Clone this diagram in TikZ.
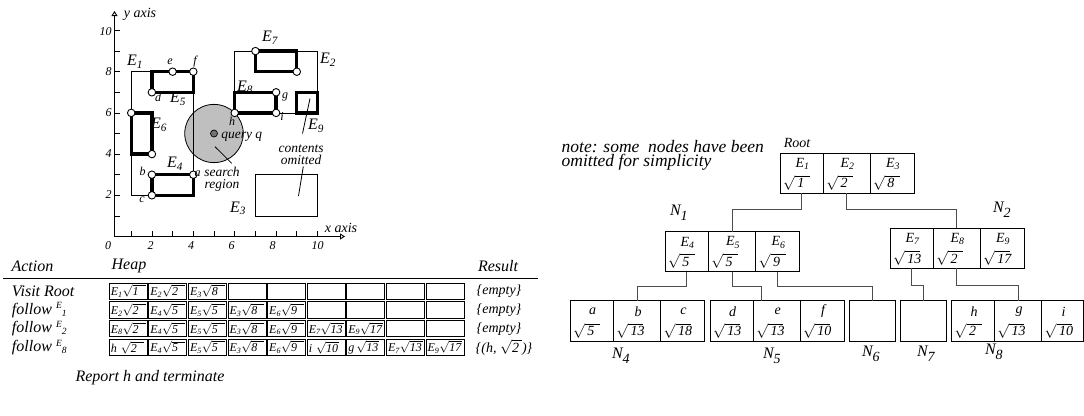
\documentclass[tikz,border=0pt]{standalone}
\usepackage{fontspec}
\setmainfont{Liberation Serif}
\usetikzlibrary{arrows.meta}
\newcommand\fs[1]{\fontsize{#1}{#1}\selectfont}
\newcommand\Es[1]{E\textsubscript{#1}}
\newcommand\tsq[1]{$\sqrt{\hbox to 15pt{\itshape\,#1\hfil}}$}
\newcommand\hsq[2][1pt]{$\sqrt{\hbox{\itshape #2\hspace{#1}}}$}
\newcommand\Nlab[1]{N\raisebox{-5pt}{\fs{14}\itshape #1}}
\newcommand\fE[1]{{\fs{9.5}\raisebox{5.5pt}{E}\raisebox{-2pt}{#1}}}
\newcommand\tcel[7]{%
  \node[tcell, minimum width=#4pt, minimum height=#5pt] (#1) at (#2,#3) {};
  \node (#1l) at ([xshift=1pt,yshift=-11pt]#1.north) {#6};
  \node[anchor=west] (#1s) at ([xshift=3pt,yshift=10.5pt]#1.south west) {\tsq{#7}};}
\begin{document}
\begin{tikzpicture}[x=1pt,y=-1pt,
  every node/.style={inner sep=0pt,outer sep=0pt,font=\fs{14}\itshape},
  thinln/.style={line width=0.8pt},
  thickrect/.style={line width=3.3pt},
  vtx/.style={circle,draw,fill=white,line width=0.9pt,minimum size=7.5pt,inner sep=0pt},
  heapcell/.style={draw,anchor=north west,minimum width=38pt,minimum height=16.5pt,line width=0.9pt},
  tcell/.style={draw,anchor=north west,line width=0.9pt,font=\fs{16}\itshape},
  conn/.style={draw=black!70,line width=0.9pt},
  axisarrow/.style={line width=0.9pt,-{Triangle[open,length=5pt,width=6pt]}},
  lab/.style={font=\fs{16}\itshape},
  plab/.style={font=\fs{12}\itshape},
  tlab/.style={font=\fs{13.5}\itshape},
  hc/.style={anchor=west,font=\fs{12}\itshape},
  rowlab/.style={font=\fs{16}\itshape,anchor=west},
  reslab/.style={font=\fs{14}\itshape}
]
\useasboundingbox (0,0) rectangle (1084,415);

% ---------------- spatial plot ----------------
\begin{scope}[shift={(110.5,236.5)}, x=20.7pt, y=20.6pt]
  \draw[thinln, fill=black!25] (5,5) circle[radius=1.414];
  \draw[thinln] (1,2) rectangle (4,8);
  \draw[thinln] (6,6) rectangle (10,9);
  \draw[thinln] (7,1) rectangle (10,3);
  \draw[thickrect] (2,7) rectangle (4,8);
  \draw[thickrect] (1,4) rectangle (2,6);
  \draw[thickrect] (2,2) rectangle (4,3);
  \draw[thickrect] (7,8) rectangle (9,9);
  \draw[thickrect] (6,6) rectangle (8,7);
  \draw[thickrect] (9,6) rectangle (10,7);
  \node[vtx] (pd) at (2,7) {};
  \node[vtx] (pe) at (3,8) {};
  \node[vtx] (pf) at (4,8) {};
  \node[vtx] (p6a) at (1,6) {};
  \node[vtx] (p6b) at (2,4) {};
  \node[vtx] (pa) at (4,3) {};
  \node[vtx] (pb) at (2,3) {};
  \node[vtx] (pc) at (2,2) {};
  \node[vtx] (p7a) at (7,9) {};
  \node[vtx] (p7b) at (9,8) {};
  \node[vtx] (ph) at (6,6) {};
  \node[vtx] (pg) at (8,7) {};
  \node[vtx] (pi) at (8,6) {};
  \node[circle,draw,fill=black!55,line width=0.7pt,minimum size=7pt] (q) at (5,5) {};
  \foreach \k in {1,...,10} {
    \draw[thinln] (\k,0) -- ++(0,0.25);
    \draw[thinln] (0.19,\k) -- ++(0.27,0);
  }
\end{scope}
\draw[axisarrow] (114.5,236.5) -- (114.5,11);
\draw[axisarrow] (114.5,236.5) -- (345,236.5);
\node (yax) at (140,14) {y axis};
\node (xax) at (341,228) {x axis};
\foreach \v/\xx in {0/108,2/150.7,4/191,6/231.7,8/272.7,10/317.7}
  \node[font=\fs{12}\itshape] (xt\v) at (\xx,246) {\v};
\foreach \v/\yy in {10/31.7,8/72,6/112.7,4/153.5,2/195}
  \node[font=\fs{12}\itshape,anchor=east] (yt\v) at (111.5,\yy) {\v};
% rectangle labels
\node[lab] (lE1) at (135,62) {\Es{1}};
\node[lab] (lE2) at (328,60) {\Es{2}};
\node[lab] (lE3) at (238,208.5) {\Es{3}};
\node[lab] (lE4) at (175,164) {\Es{4}};
\node[lab] (lE5) at (178,99) {\Es{5}};
\node[lab] (lE6) at (159,125) {\Es{6}};
\node[lab] (lE7) at (270,38) {\Es{7}};
\node[lab] (lE8) at (245,87.5) {\Es{8}};
\node[lab] (lE9) at (316,126) {\Es{9}};
% point labels
\node[plab] (ld) at (158,97.5) {d};
\node[plab] (le) at (170,62) {e};
\node[plab] (lf) at (195,61.5) {f};
\node[plab] (lg) at (285,96.5) {g};
\node[plab] (li) at (282,117) {i};
\node[plab] (lh) at (232,121.5) {h};
\node[plab] (la) at (197.5,174) {a};
\node[plab] (lb) at (142.5,171.5) {b};
\node[plab] (lc) at (142,200) {c};
\node[tlab] (lq) at (241.7,136.7) {query q};
\node[tlab] (ls1) at (222,171.7) {search};
\node[tlab] (ls2) at (222,185) {region};
\node[tlab] (lc1) at (301,148.3) {contents};
\node[tlab] (lc2) at (301,160) {omitted};
\coordinate (sr1) at (215,146.7);
\coordinate (sr2) at (231.7,163.3);
\draw[thinln] (sr1) -- (sr2);
\coordinate (co1) at (303.3,166.5);
\coordinate (co2) at (298.5,196);
\draw[thinln] (co1) -- (co2);
\coordinate (e91) at (310,98.5);
\coordinate (e92) at (302.5,133.5);
\draw[thinln] (e91) -- (e92);

% ---------------- heap table ----------------
\node[font=\fs{16}\itshape] (hAct) at (32.5,266) {Action};
\node[font=\fs{16}\itshape] (hHeap) at (129,266) {Heap};
\node[font=\fs{16}\itshape] (hRes) at (498,266) {Result};
\coordinate (hl1) at (3,278.5);
\coordinate (hl2) at (538,278.5);
\draw[thinln] (hl1) -- (hl2);
\foreach \r/\yt in {1/283,2/301.7,3/320.4,4/339.1}
  \foreach \c in {0,...,8}
    \node[heapcell] (h\r-\c) at ({109.3+39.6*\c},\yt) {};
\foreach \c/\t in {0/{\Es{1}\hsq[7pt]{1}},1/{\Es{2}\hsq[7pt]{2}},2/{\Es{3}\hsq[7pt]{8}}}
  \node[hc] (t1-\c) at ([xshift=1.5pt]h1-\c.west) {\t};
\foreach \c/\t in {0/{\Es{2}\hsq[7pt]{2}},1/{\Es{4}\hsq[7pt]{5}},2/{\Es{5}\hsq[7pt]{5}},3/{\Es{3}\hsq[7pt]{8}},4/{\Es{6}\hsq[7pt]{9}}}
  \node[hc] (t2-\c) at ([xshift=1.5pt]h2-\c.west) {\t};
\foreach \c/\t in {0/{\Es{8}\hsq[7pt]{2}},1/{\Es{4}\hsq[7pt]{5}},2/{\Es{5}\hsq[7pt]{5}},3/{\Es{3}\hsq[7pt]{8}},4/{\Es{6}\hsq[7pt]{9}},5/{\Es{7}\hsq{13}},6/{\Es{9}\hsq{17}}}
  \node[hc] (t3-\c) at ([xshift=1.5pt]h3-\c.west) {\t};
\foreach \c/\t in {0/{h\hspace{4pt}\hsq[7pt]{2}},1/{\Es{4}\hsq[7pt]{5}},2/{\Es{5}\hsq[7pt]{5}},3/{\Es{3}\hsq[7pt]{8}},4/{\Es{6}\hsq[7pt]{9}},5/{i\hspace{4pt}\hsq{10}},6/{g\hspace{2pt}\hsq{13}},7/{\Es{7}\hsq{13}},8/{\Es{9}\hsq{17}}}
  \node[hc] (t4-\c) at ([xshift=1.5pt]h4-\c.west) {\t};
\node[rowlab] (r1) at (12,291.3) {Visit Root};
\node[rowlab] (r2) at (12,310) {follow \fE{1}};
\node[rowlab] (r3) at (12,328.7) {follow \fE{2}};
\node[rowlab] (r4) at (12,347.4) {follow \fE{8}};
\node[reslab] (s1) at (499,291.3) {\{empty\}};
\node[reslab] (s2) at (499,310) {\{empty\}};
\node[reslab] (s3) at (499,328.7) {\{empty\}};
\node[reslab] (s4) at (504,347.4) {\{(h, \hsq[3pt]{2})\}};
\node[font=\fs{16}\itshape] (rep) at (150,378) {Report h and terminate};

% ---------------- tree ----------------
\node[font=\fontsize{17.5}{14.5}\selectfont\itshape,anchor=north west,align=left] (note) at (561.7,140) {note: some\ \ nodes have been\\omitted for simplicity};
\node[font=\fs{14}\itshape] (rootl) at (797,143.3) {Root};
% root
\tcel{rA}{780}{153}{43.3}{40}{\Es{1}}{1}
\tcel{rB}{823.3}{153}{46.7}{40}{\Es{2}}{2}
\tcel{rC}{870}{153}{44.3}{40}{\Es{3}}{8}
% N1
\tcel{aA}{665}{231.5}{43.3}{40}{\Es{4}}{5}
\tcel{aB}{708.3}{231.5}{47.4}{40}{\Es{5}}{5}
\tcel{aC}{755.7}{231.5}{43.6}{40}{\Es{6}}{9}
% N2
\tcel{bA}{890}{228.3}{43.3}{40}{\Es{7}}{13}
\tcel{bB}{933.3}{228.3}{46.7}{40}{\Es{8}}{2}
\tcel{bC}{980}{228.3}{44.3}{40}{\Es{9}}{17}
% N4
\tcel{cA}{570}{300.5}{43.3}{40.5}{a}{5}
\tcel{cB}{613.3}{300.5}{47.4}{40.5}{b}{13}
\tcel{cC}{660.7}{300.5}{43.6}{40.5}{c}{18}
% N5
\tcel{dA}{710}{300.5}{43.3}{40.5}{d}{13}
\tcel{dB}{753.3}{300.5}{46.7}{40.5}{e}{13}
\tcel{dC}{800}{300.5}{44.3}{40.5}{f}{10}
% N6, N7
\node[tcell,minimum width=46pt,minimum height=40.5pt] (n6) at (849,300.5) {};
\node[tcell,minimum width=46pt,minimum height=40.5pt] (n7) at (900.7,300.5) {};
% N8
\tcel{eA}{951.7}{300.5}{42.6}{40.5}{h}{2}
\tcel{eB}{994.3}{300.5}{47.4}{40.5}{g}{13}
\tcel{eC}{1041.7}{300.5}{41.6}{40.5}{i}{10}
% labels
\node[font=\fs{16}\itshape,anchor=base west] (N1) at (670,215) {\Nlab{1}};
\node[font=\fs{16}\itshape,anchor=base west] (N2) at (993,212) {\Nlab{2}};
\node[font=\fs{16}\itshape,anchor=base west] (N4) at (612,358) {\Nlab{4}};
\node[font=\fs{16}\itshape,anchor=base west] (N5) at (763,358) {\Nlab{5}};
\node[font=\fs{16}\itshape,anchor=base west] (N6) at (862,356) {\Nlab{6}};
\node[font=\fs{16}\itshape,anchor=base west] (N7) at (917,356) {\Nlab{7}};
\node[font=\fs{16}\itshape,anchor=base west] (N8) at (985,354) {\Nlab{8}};
% connectors
\coordinate (n5t) at (761,300.5);
\draw[conn] (rA.south) -- ++(0,16) -| (aB.north);
\draw[conn] (rB.south) -- ++(0,16) -| (bB.north);
\draw[conn] (aA.south) -- ++(0,14.5) -| (cB.north);
\draw[conn] (aB.south) -- ++(0,14.5) -| (n5t);
\draw[conn] (aC.south) -- ++(0,14.5) -| (n6.north);
\draw[conn] (bA.south) -- ++(0,17.5) -| (n7.north);
\draw[conn] (bB.south) -- ++(0,17.5) -| (eB.north);
\end{tikzpicture}
\end{document}
